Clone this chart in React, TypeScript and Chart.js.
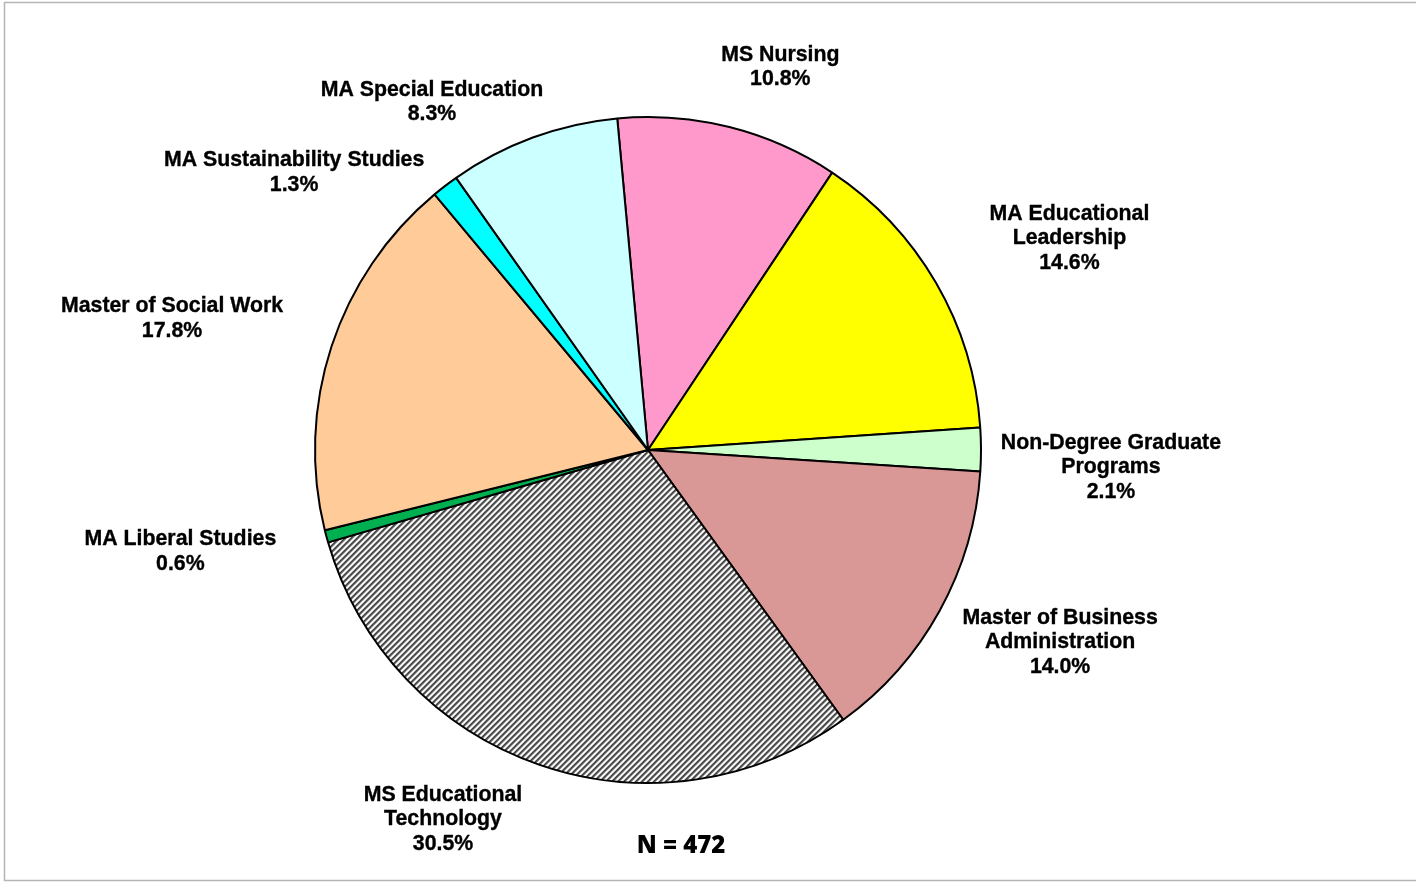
import React, { useEffect, useRef } from "react";
import { Chart, registerables } from "chart.js";

Chart.register(...registerables);

// ---- Data ----
const programLabels: string[][] = [
  ["MS Nursing"],
  ["MA Educational", "Leadership"],
  ["Non-Degree Graduate", "Programs"],
  ["Master of Business", "Administration"],
  ["MS Educational", "Technology"],
  ["MA Liberal Studies"],
  ["Master of Social Work"],
  ["MA Sustainability Studies"],
  ["MA Special Education"],
];
const programShares: number[] = [10.8, 14.6, 2.1, 14.0, 30.5, 0.6, 17.8, 1.3, 8.3];
const sampleSize = 472;

// ---- Style ----
const sliceColors: string[] = [
  "#FF99CC",
  "#FFFF00",
  "#CCFFCC",
  "#D99795",
  "HATCH",
  "#00B050",
  "#FFCC99",
  "#00FFFF",
  "#CCFFFF",
];
// label layout: [angle shift from slice mid (deg), distance as multiple of radius]
const labelPlacement: [number, number][] = [
  [4.85, 1.221],
  [3.33, 1.418],
  [2.06, 1.391],
  [-4.03, 1.364],
  [10.12, 1.265],
  [2.95, 1.436],
  [-2.49, 1.484],
  [-14.24, 1.353],
  [-11.51, 1.233],
];

function makeHatch(): CanvasPattern | string {
  const c = document.createElement("canvas");
  c.width = 6;
  c.height = 6;
  const ctx = c.getContext("2d");
  if (!ctx) return "#999";
  const shades = ["#404040", "#555555", "#8c8c8c", "#eeeeee", "#ffffff", "#b8b8b8"];
  for (let y = 0; y < 6; y++)
    for (let x = 0; x < 6; x++) {
      ctx.fillStyle = shades[(x + y) % 6];
      ctx.fillRect(x, y, 1, 1);
    }
  return ctx.createPattern(c, "repeat") || "#999";
}

const decorPlugin = {
  id: "decor",
  beforeDraw(chart: any) {
    const ctx = chart.ctx;
    ctx.save();
    ctx.fillStyle = "#ffffff";
    ctx.fillRect(0, 0, chart.width, chart.height);
    ctx.strokeStyle = "#b5b5b5";
    ctx.lineWidth = 1.5;
    ctx.strokeRect(4.5, 2.5, chart.width + 10, chart.height - 4);
    ctx.restore();
  },
  afterDraw(chart: any) {
    const ctx = chart.ctx;
    const meta = chart.getDatasetMeta(0);
    ctx.save();
    ctx.fillStyle = "#000000";
    ctx.strokeStyle = "#000000";
    ctx.lineWidth = 0.35;
    ctx.textAlign = "center";
    ctx.textBaseline = "middle";
    ctx.font = "bold 21.3px 'Liberation Sans', Arial, sans-serif";
    const lh = 24.5;
    meta.data.forEach((el: any, i: number) => {
      const p = el.getProps(["x", "y", "startAngle", "endAngle", "outerRadius"], true);
      const [shift, dist] = labelPlacement[i];
      const a = (p.startAngle + p.endAngle) / 2 + (shift * Math.PI) / 180;
      const cx = p.x + dist * p.outerRadius * Math.cos(a);
      const cy = p.y + dist * p.outerRadius * Math.sin(a) + 1.5;
      const lines = [...programLabels[i], programShares[i].toFixed(1) + "%"];
      lines.forEach((t, j) => {
        const ty = cy - ((lines.length - 1) * lh) / 2 + j * lh;
        ctx.fillText(t, cx, ty);
        ctx.strokeText(t, cx, ty);
      });
    });
    const c0 = meta.data[0].getProps(["x", "y", "outerRadius"], true);
    ctx.font = "800 24px 'Open Sans', Lato, sans-serif";
    ctx.fillText("N = " + sampleSize, c0.x + 33, c0.y + c0.outerRadius + 63);
    ctx.restore();
  },
};

export default function App() {
  const ref = useRef<HTMLCanvasElement | null>(null);
  useEffect(() => {
    if (!ref.current) return;
    const hatch = makeHatch();
    const chart = new Chart(ref.current, {
      type: "pie",
      data: {
        labels: programLabels.map((l) => l.join(" ")),
        datasets: [
          {
            data: programShares,
            backgroundColor: sliceColors.map((c) => (c === "HATCH" ? hatch : c)) as any,
            borderColor: "#000000",
            borderWidth: 2,
            borderAlign: "center",
          },
        ],
      },
      options: {
        responsive: false,
        animation: false,
        devicePixelRatio: 1,
        rotation: -5.3,
        layout: { padding: { left: 314, right: 434, top: 116, bottom: 98 } },
        plugins: {
          legend: { display: false },
          tooltip: { enabled: false },
        },
      },
      plugins: [decorPlugin],
    });
    return () => chart.destroy();
  }, []);
  return (
    <div style={{ position: "absolute", left: 0, top: 0, width: 1416, height: 882, background: "#fff" }}>
      <canvas ref={ref} width={1416} height={882} style={{ display: "block" }} />
    </div>
  );
}
